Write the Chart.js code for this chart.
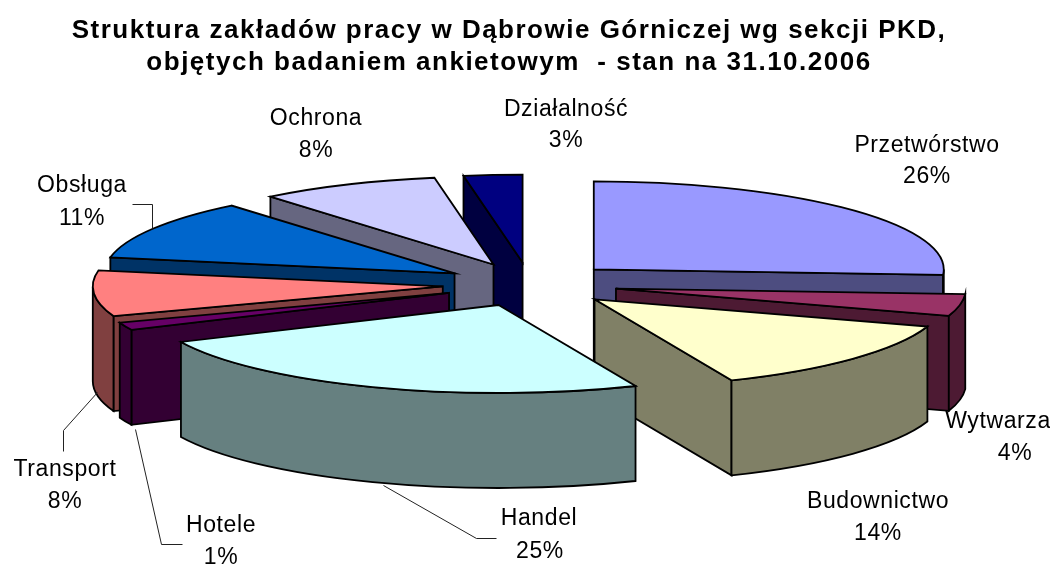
<!DOCTYPE html>
<html>
<head>
<meta charset="utf-8">
<title>Struktura zakładów pracy</title>
<script src="https://cdn.jsdelivr.net/npm/chart.js@4"></script>
<style>
  html, body { margin: 0; padding: 0; background: #fff; overflow: hidden; }
  canvas { display: block; }
</style>
</head>
<body>
<canvas id="myPie" width="1050" height="564"></canvas>
<script>
const categories = ['Przetwórstwo', 'Wytwarza', 'Budownictwo', 'Handel', 'Hotele', 'Transport', 'Obsługa', 'Ochrona', 'Działalność'];
// shares, the labels show them rounded
const shares = [26, 4, 13.6, 24.5, 1.4, 8.4, 11.1, 8.3, 2.7];
const topColors = ['#9999FF', '#993366', '#FFFFCC', '#CCFFFF', '#660066', '#FF8080', '#0066CC', '#CCCCFF', '#000080'];
const wallColors = ['#4D4D80', '#4D1A33', '#808066', '#668080', '#330033', '#804040', '#003366', '#666680', '#000040'];
const titleLines = ['Struktura zakładów pracy w Dąbrowie Górniczej wg sekcji PKD,', 'objętych badaniem ankietowym  - stan na 31.10.2006'];

// label centres, [x, y first line, x second line, y second line]
const labelSpots = [
    [927, 146, 927, 177],
    [998, 422, 1015, 454],
    [878, 502, 878, 534],
    [539, 519, 540, 552],
    [221, 526, 221, 558],
    [65, 470, 65, 502],
    [82, 186, 82, 219],
    [316, 119, 316, 151],
    [566, 110, 566, 141]
];
const leaders = [
    [[132, 204], [152, 204], [152, 228]],
    [[97, 392], [63, 430], [63, 451]],
    [[135, 429], [161, 544], [182, 544]],
    [[383, 485], [476, 538], [496, 538]]
];

// flattened 3d look: ellipse size, extrusion and explosion
const pieLook = { rx: 350, ry: 88, depth: 95, explode: 0.25, shiftX: 21 };

const pie3d = {
    id: 'pie3d',
    beforeDraw(chart) {
        // only the title is drawn with this, labels set their own
        chart.ctx.letterSpacing = '1.5px';
    },
    beforeDatasetDraw(chart) {
        const ctx = chart.ctx;
        const arcs = chart.getDatasetMeta(0).data;
        const { rx, ry, depth, explode, shiftX } = pieLook;

        const slices = arcs.map((arc, i) => {
            const p = arc.getProps(['x', 'y', 'startAngle', 'endAngle']);
            const mid = (p.startAngle + p.endAngle) / 2;
            return {
                i: i,
                a1: p.startAngle,
                a2: p.endAngle,
                mid: mid,
                x: p.x + shiftX + Math.cos(mid) * explode * rx,
                y: p.y + Math.sin(mid) * explode * ry
            };
        });
        // back slices first
        slices.sort((a, b) => Math.sin(a.mid) - Math.sin(b.mid));

        ctx.save();
        ctx.strokeStyle = '#000';
        ctx.lineWidth = 1.8;
        ctx.lineJoin = 'miter';

        slices.forEach(s => {
            ctx.fillStyle = wallColors[s.i];
            // cut faces, chart angles start at 3 o'clock so cos is the sideways part
            [s.a1, s.a2].forEach((a, k) => {
                const visible = k === 0 ? Math.cos(a) < 0 : Math.cos(a) > 0;
                if (!visible) return;
                const ex = s.x + Math.cos(a) * rx;
                const ey = s.y + Math.sin(a) * ry;
                ctx.beginPath();
                ctx.moveTo(s.x, s.y);
                ctx.lineTo(ex, ey);
                ctx.lineTo(ex, ey + depth);
                ctx.lineTo(s.x, s.y + depth);
                ctx.closePath();
                ctx.fill();
                ctx.stroke();
            });
            // rim, only the part facing us
            const from = Math.max(norm(s.a1), 0);
            const to = Math.min(norm(s.a1) + (s.a2 - s.a1), Math.PI);
            if (to > from) {
                ctx.beginPath();
                ctx.ellipse(s.x, s.y, rx, ry, 0, from, to);
                ctx.ellipse(s.x, s.y + depth, rx, ry, 0, to, from, true);
                ctx.closePath();
                ctx.fill();
                ctx.stroke();
            }
            // top
            ctx.fillStyle = topColors[s.i];
            ctx.beginPath();
            ctx.moveTo(s.x, s.y);
            ctx.ellipse(s.x, s.y, rx, ry, 0, s.a1, s.a2);
            ctx.closePath();
            ctx.fill();
            ctx.stroke();
        });
        ctx.restore();
        return false;
    },
    afterDraw(chart) {
        const ctx = chart.ctx;
        ctx.save();
        ctx.strokeStyle = '#222';
        ctx.lineWidth = 1;
        leaders.forEach(line => {
            ctx.beginPath();
            line.forEach((pt, k) => k === 0 ? ctx.moveTo(pt[0] + 0.5, pt[1] + 0.5) : ctx.lineTo(pt[0] + 0.5, pt[1] + 0.5));
            ctx.stroke();
        });
        ctx.fillStyle = '#000';
        ctx.font = '23px "Liberation Sans", Arial, sans-serif';
        ctx.letterSpacing = '0.6px';
        ctx.textAlign = 'center';
        ctx.textBaseline = 'middle';
        categories.forEach((name, i) => {
            const spot = labelSpots[i];
            ctx.fillText(name, spot[0], spot[1]);
            ctx.fillText(Math.round(shares[i]) + '%', spot[2], spot[3]);
        });
        ctx.restore();
    }
};

// angle folded so that 0..PI is the front half of the pie
function norm(a) {
    const full = Math.PI * 2;
    let out = a % full;
    if (out < -Math.PI / 2) out += full;
    return out;
}

const myPie = new Chart(document.getElementById('myPie'), {
    type: 'pie',
    data: {
        labels: categories,
        datasets: [{
            data: shares,
            backgroundColor: topColors
        }]
    },
    options: {
        responsive: false,
        animation: false,
        layout: { padding: { right: 32, bottom: 84 } },
        plugins: {
            legend: { display: false },
            tooltip: { enabled: false },
            title: {
                display: true,
                text: titleLines,
                color: '#000',
                font: { family: '"Liberation Sans", Arial, sans-serif', size: 26, weight: 'bold', lineHeight: 1.23 },
                padding: { top: 15, bottom: 10 }
            }
        }
    },
    plugins: [pie3d]
});
</script>
</body>
</html>
